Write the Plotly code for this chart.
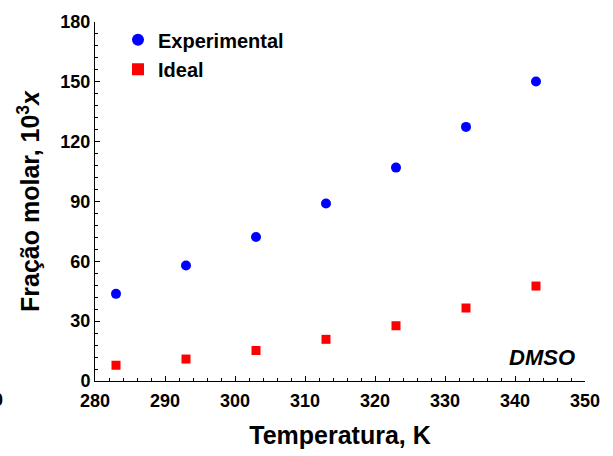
import plotly.graph_objects as go

# Solubility data in DMSO
temperatura = [283, 293, 303, 313, 323, 333, 343]
experimental = [43.7, 57.9, 72.2, 89.0, 107.0, 127.4, 150.2]
ideal = [7.9, 11.0, 15.3, 20.9, 27.7, 36.6, 47.6]

x_ticks = [280, 290, 300, 310, 320, 330, 340, 350]
y_ticks = [0, 30, 60, 90, 120, 150, 180]

FONT = "Liberation Sans, Arial, sans-serif"

fig = go.Figure()
fig.add_trace(go.Scatter(
    x=temperatura, y=experimental, mode="markers", name="<b>Experimental</b>",
    marker=dict(symbol="circle", size=10, color="#0000ff"),
    legend="legend",
))
fig.add_trace(go.Scatter(
    x=temperatura, y=ideal, mode="markers", name="<b>Ideal</b>",
    marker=dict(symbol="square", size=9, color="#ff0000"),
    legend="legend2",
))

axis_common = dict(
    showline=True, linecolor="black", linewidth=1, mirror=False,
    showgrid=False, zeroline=False,
    ticks="inside", ticklen=5, tickcolor="black", tickwidth=1,
    tickfont=dict(family=FONT, size=18, color="black"),
)

fig.update_xaxes(
    range=[280, 350], tickvals=x_ticks, ticktext=[f"<b>{v}</b>" for v in x_ticks],
    minor=dict(dtick=2, tick0=280, ticks="inside", ticklen=3, tickcolor="black"),
    ticklabelstandoff=3,
    title=dict(text="<b>Temperatura, K</b>", font=dict(family=FONT, size=25, color="black"), standoff=16),
    **axis_common,
)
fig.update_yaxes(
    range=[0, 180], tickvals=y_ticks, ticktext=[f"<b>{v}</b>" for v in y_ticks],
    minor=dict(dtick=6, tick0=0, ticks="inside", ticklen=3, tickcolor="black"),
    title=dict(text="<b>Fração molar, 10<sup>3</sup><i>x</i></b>", font=dict(family=FONT, size=25, color="black"), standoff=13),
    **axis_common,
)

fig.add_annotation(
    x=(577 - 95) / 490, y=0.065, xref="paper", yref="paper", xanchor="right", yanchor="middle",
    text="<b><i>DMSO</i></b>", showarrow=False,
    font=dict(family=FONT, size=22, color="black"),
)
fig.add_annotation(
    x=(-2 - 95) / 490, y=-0.052, xref="paper", yref="paper", xanchor="center", yanchor="middle",
    text="<b>0</b>", showarrow=False,
    font=dict(family=FONT, size=18, color="black"),
)

legend_style = dict(
    xanchor="left", yanchor="middle", bgcolor="rgba(0,0,0,0)",
    font=dict(family=FONT, size=20, color="black"),
    itemsizing="constant",
)

fig.update_layout(
    width=613, height=456,
    margin=dict(l=95, r=28, t=17, b=75),
    paper_bgcolor="white", plot_bgcolor="white",
    showlegend=True,
    legend=dict(x=(118 - 95) / 490, y=(381 - 35) / 364, **legend_style),
    legend2=dict(x=(118 - 95) / 490, y=(381 - 65) / 364, **legend_style),
)

fig.write_html("out.html")
